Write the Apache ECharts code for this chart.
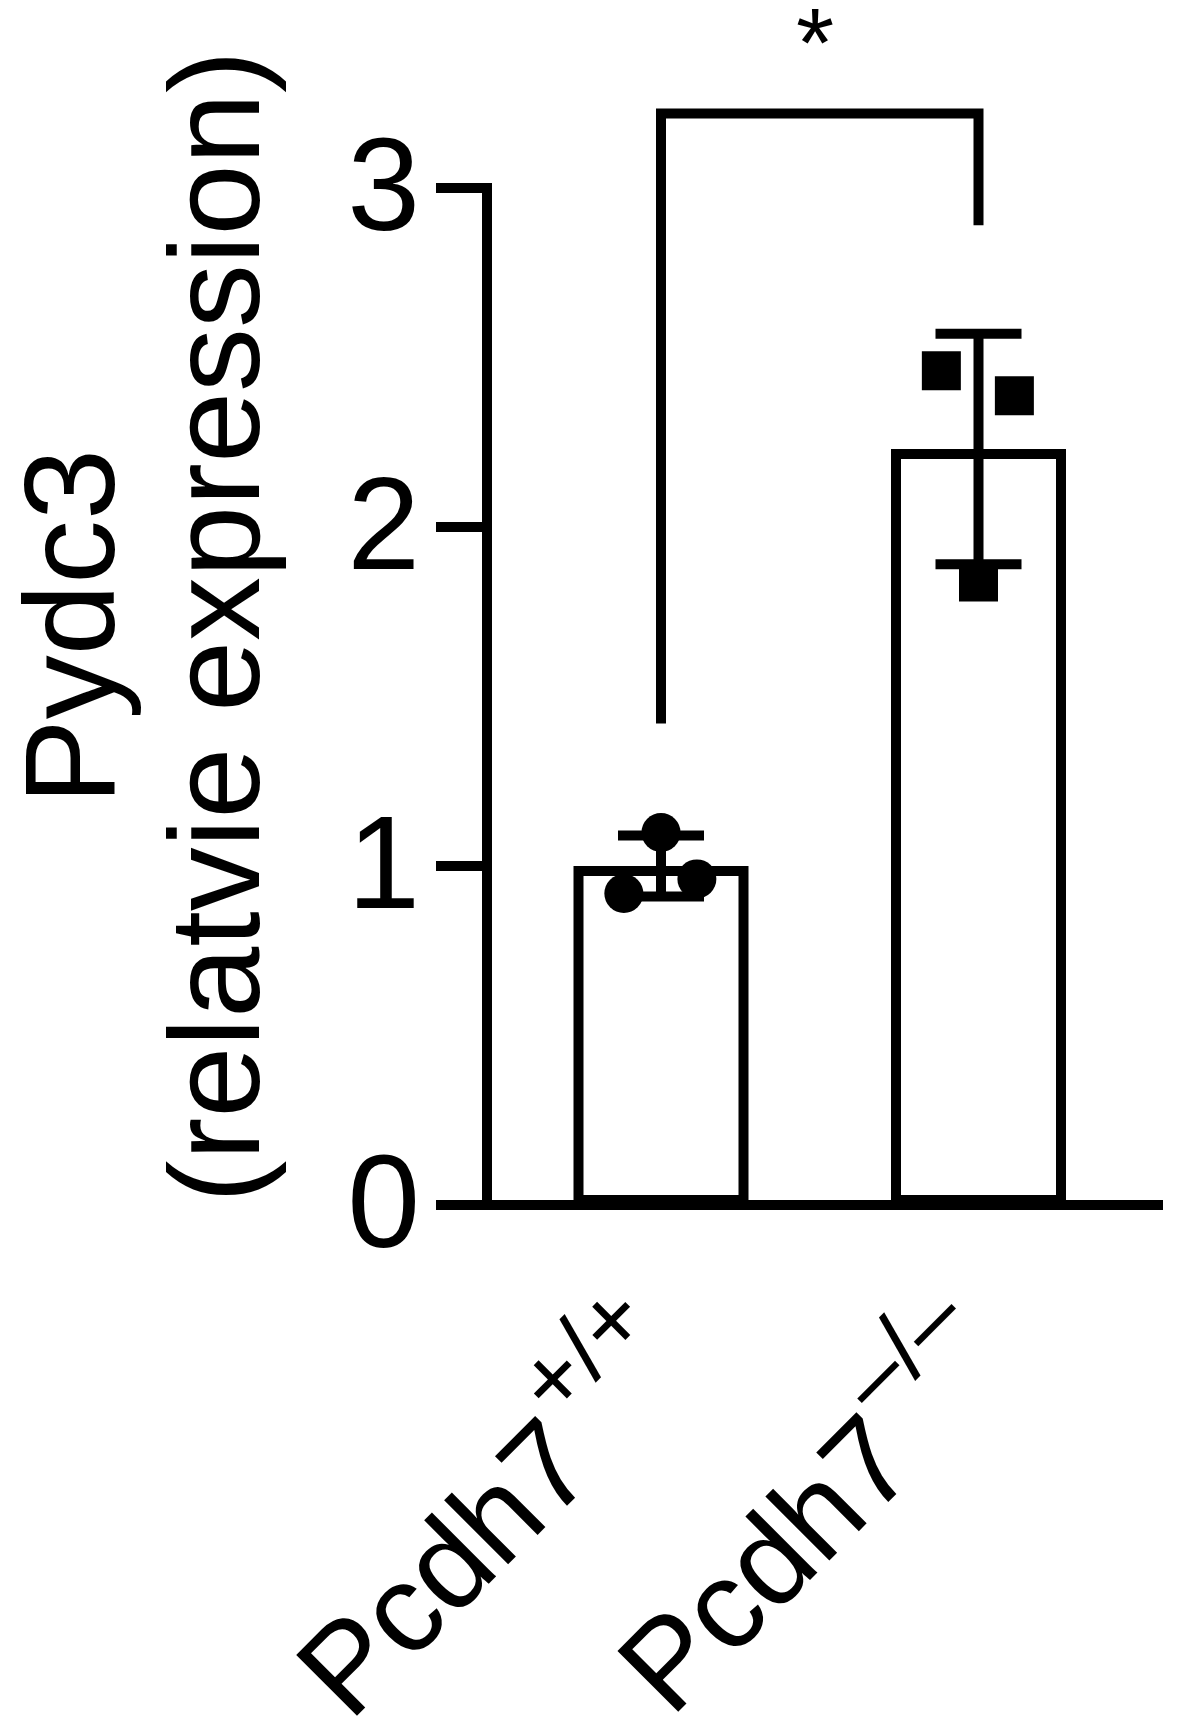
<!DOCTYPE html>
<html>
<head>
<meta charset="utf-8">
<script src="https://cdn.jsdelivr.net/npm/echarts@6/dist/echarts.min.js"></script>
<style>
  html, body { margin: 0; padding: 0; background: #fff; }
  #chart { width: 1182px; height: 1728px; }
</style>
</head>
<body>
<div id="chart"></div>
<script>
// ---- data ----
const categories = ['Pcdh7+/+', 'Pcdh7–/–'];
const labelBase = ['Pcdh7', 'Pcdh7'];
const labelSup = ['+/+', '–/–'];
const means = [1.0, 2.23];
const sds = [0.09, 0.34];
const wtValues = [1.099, 0.919, 0.962];     // circles, Pcdh7+/+
const wtJitter = [0.0, -0.117, 0.113];
const koValues = [2.461, 2.387, 1.838];     // squares, Pcdh7-/-
const koJitter = [-0.117, 0.113, 0.0];
const yTicks = [0, 1, 2, 3];
const yTitle = ['Pydc3', '(relatvie expression)'];
const sigPair = [0, 1];
const sigLeftEnd = 1.42;
const sigRightEnd = 2.89;
const sigTop = 3.22;
const sigLabel = '*';
const sigLabelX = 0.485;
const sigLabelY = 3.408;

// ---- build ----
const FONT = "'Liberation Sans', Arial, Helvetica, sans-serif";
const LW = 10;
const chart = echarts.init(document.getElementById('chart'), null, { renderer: 'canvas' });

const errData = means.map((m, i) => [i, m, sds[i]]);
const wtData = wtValues.map((v, i) => [0 + wtJitter[i], v]);
const koData = koValues.map((v, i) => [1 + koJitter[i], v]);

const option = {
  animation: false,
  backgroundColor: '#fff',
  grid: [
    { left: 502.25, right: 44.75, top: 188, bottom: 523, outerBoundsMode: 'none', containLabel: false },
    { left: 436, right: 19, top: 188, bottom: 523, outerBoundsMode: 'none', containLabel: false }
  ],
  xAxis: [
    {
      type: 'category', gridIndex: 0, data: categories,
      axisLine: { show: false }, axisTick: { show: false }, splitLine: { show: false },
      axisLabel: {
        interval: 0, rotate: 45, margin: 126, color: '#000',
        formatter: (v, i) => '{m|' + labelBase[i] + '}{s|' + labelSup[i] + '}',
        rich: {
          m: { fontSize: 125, fontFamily: FONT, color: '#000', lineHeight: 170, verticalAlign: 'bottom' },
          s: { fontSize: 96, fontFamily: FONT, color: '#000', verticalAlign: 'top', padding: [0, 0, 0, 4] }
        }
      }
    },
    { type: 'value', gridIndex: 0, min: -0.5, max: 1.5, show: false },
    {
      type: 'value', gridIndex: 1, min: 0, max: 1,
      axisLine: { show: true, onZero: true, lineStyle: { color: '#000', width: LW, cap: 'butt' } },
      axisTick: { show: false }, axisLabel: { show: false }, splitLine: { show: false }
    }
  ],
  yAxis: [
    {
      type: 'value', gridIndex: 0, min: yTicks[0], max: yTicks[yTicks.length - 1], interval: 1,
      offset: 15.25,
      axisLine: { show: true, onZero: false, lineStyle: { color: '#000', width: LW, cap: 'square' } },
      axisTick: { show: true, length: 51, lineStyle: { color: '#000', width: LW } },
      axisLabel: {
        color: '#000', margin: 67, formatter: '{a|{value}}',
        rich: { a: { fontSize: 131, fontFamily: FONT, color: '#000', padding: [12, 0, 0, 0] } }
      },
      splitLine: { show: false }
    },
    { type: 'value', gridIndex: 1, min: 0, max: 3, show: false }
  ],
  graphic: [{
    type: 'text', x: 151.7, y: 626.7, rotation: Math.PI / 2,
    style: {
      text: yTitle.join('\n'), fontSize: 128, fontFamily: FONT, fill: '#000',
      align: 'center', verticalAlign: 'middle', lineHeight: 145
    }
  }],
  series: [
    {
      type: 'bar', xAxisIndex: 0, yAxisIndex: 0, data: means, barWidth: 175,
      itemStyle: { color: '#fff', borderColor: '#000', borderWidth: LW },
      z: 2
    },
    {
      type: 'custom', xAxisIndex: 1, yAxisIndex: 0, data: errData, z: 3,
      encode: { x: 0, y: 1 },
      renderItem: (params, api) => {
        const x = api.value(0), m = api.value(1), s = api.value(2);
        const top = api.coord([x, m + s]);
        const bot = api.coord([x, m - s]);
        const hw = 43;
        const st = { stroke: '#000', lineWidth: LW, lineCap: 'butt' };
        return {
          type: 'group',
          children: [
            { type: 'line', shape: { x1: top[0], y1: top[1], x2: bot[0], y2: bot[1] }, style: st },
            { type: 'line', shape: { x1: top[0] - hw, y1: top[1], x2: top[0] + hw, y2: top[1] }, style: st },
            { type: 'line', shape: { x1: bot[0] - hw, y1: bot[1], x2: bot[0] + hw, y2: bot[1] }, style: st }
          ]
        };
      }
    },
    {
      type: 'scatter', xAxisIndex: 1, yAxisIndex: 0, data: wtData, symbol: 'circle', symbolSize: 39,
      itemStyle: { color: '#000', opacity: 1 }, z: 4
    },
    {
      type: 'scatter', xAxisIndex: 1, yAxisIndex: 0, data: koData, symbol: 'rect', symbolSize: 39,
      itemStyle: { color: '#000', opacity: 1 }, z: 4
    },
    {
      type: 'custom', xAxisIndex: 1, yAxisIndex: 0, clip: false, z: 5,
      data: [[sigPair[0], sigPair[1], sigLeftEnd, sigRightEnd, sigTop, sigLabelX, sigLabelY]],
      encode: { x: [0, 1], y: [2, 3] },
      renderItem: (params, api) => {
        const a = api.value(0), b = api.value(1);
        const pL = api.coord([a, api.value(2)]);
        const pLT = api.coord([a, api.value(4)]);
        const pRT = api.coord([b, api.value(4)]);
        const pR = api.coord([b, api.value(3)]);
        const pS = api.coord([api.value(5), api.value(6)]);
        return {
          type: 'group',
          children: [
            { type: 'polyline', shape: { points: [pL, pLT, pRT, pR] },
              style: { stroke: '#000', fill: null, lineWidth: LW, lineJoin: 'miter', lineCap: 'butt' } },
            { type: 'text', x: pS[0], y: pS[1],
              style: { text: sigLabel, fontSize: 98, fontFamily: FONT, fill: '#000', align: 'center', verticalAlign: 'middle' } }
          ]
        };
      }
    }
  ]
};
chart.setOption(option);
</script>
</body>
</html>
